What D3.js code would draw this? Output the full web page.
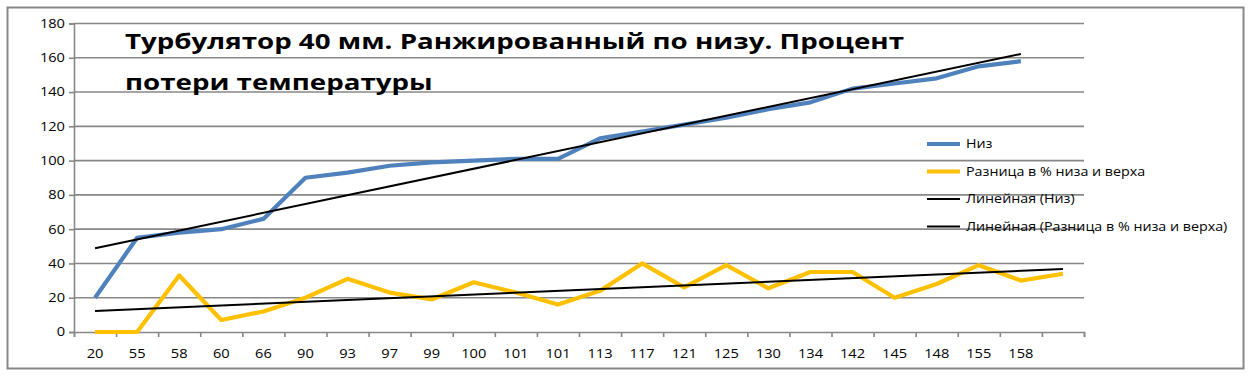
<!DOCTYPE html>
<html>
<head>
<meta charset="utf-8">
<script src="https://cdn.jsdelivr.net/npm/d3@7"></script>
<style>
  body { margin: 0; background: #fff; }
  #chart { width: 1251px; height: 376px; }
  text { font-family: 'Open Sans', sans-serif; fill: #000; }
</style>
</head>
<body>
<div id="chart"></div>
<script>
// категории оси X (последний слот без подписи)
const categories = ['20','55','58','60','66','90','93','97','99','100','101','101','113','117','121','125','130','134','142','145','148','155','158',''];
const niz = [20,55,58,60,66,90,93,97,99,100,101,101,113,117,121,125,130,134,142,145,148,155,158];
const raznica = [0,0,33,7,12,20,31,23,19,29,23,16,24,40,26,39,25.5,35,35,20,28,39,30,34];
const yTicks = [0,20,40,60,80,100,120,140,160,180];
const titleLines = ['Турбулятор 40 мм. Ранжированный по низу. Процент', 'потери температуры'];
const legendNames = ['Низ', 'Разница в % низа и верха', 'Линейная (Низ)', 'Линейная (Разница в % низа и верха)'];

const SX = 1.22; // текст в исходнике растянут по горизонтали

class Chart{
  constructor(opts){
    this.element = opts.element;
    this.draw();
  }

  draw(){
    this.width = 1251;
    this.height = 376;
    this.plotBox = {left: 74, right: 1084, top: 23.5, bottom: 332};

    const svg = d3.select(this.element).append('svg')
      .attr('width', this.width)
      .attr('height', this.height);
    this.svg = svg;

    svg.append('rect')
      .attr('x', 7.5).attr('y', 7.5)
      .attr('width', 1236).attr('height', 361)
      .attr('fill', '#fff')
      .attr('stroke', '#878787')
      .attr('stroke-width', 2);

    this.createScales();
    this.addGrid();
    this.addAxes();
    this.addTitle();
    this.addLines();
    this.addLegend();
  }

  createScales(){
    const p = this.plotBox;
    this.xBand = d3.scaleBand()
      .domain(d3.range(categories.length))
      .range([p.left, p.right])
      .padding(0);
    this.xEdge = d3.scaleLinear()
      .domain([0, categories.length])
      .range([p.left, p.right]);
    this.yScale = d3.scaleLinear()
      .domain([0, 180])
      .range([p.bottom, p.top]);
    this.cx = i => this.xBand(i) + this.xBand.bandwidth()/2;
  }

  addGrid(){
    const p = this.plotBox;
    this.svg.append('g').attr('class', 'grid')
      .selectAll('line')
      .data(yTicks.filter(d => d > 0))
      .join('line')
      .attr('x1', p.left).attr('x2', p.right)
      .attr('y1', d => this.yScale(d)).attr('y2', d => this.yScale(d))
      .attr('stroke', '#878787')
      .attr('stroke-width', 1.6);
  }

  addAxes(){
    const p = this.plotBox;

    const yAxis = d3.axisLeft(this.yScale)
      .tickValues(yTicks)
      .tickSize(5)
      .tickPadding(9);
    const gy = this.svg.append('g')
      .attr('transform', `translate(${p.left},0)`)
      .call(yAxis);

    // засечки между категориями
    const edgeAxis = d3.axisBottom(this.xEdge)
      .tickValues(d3.range(categories.length + 1))
      .tickSize(5)
      .tickFormat('');
    this.svg.append('g')
      .attr('transform', `translate(0,${p.bottom})`)
      .call(edgeAxis);

    const xAxis = d3.axisBottom(this.xBand)
      .tickSize(0)
      .tickPadding(17)
      .tickFormat(i => categories[i]);
    const gx = this.svg.append('g')
      .attr('transform', `translate(0,${p.bottom})`)
      .call(xAxis);
    gx.select('.domain').remove();

    this.svg.selectAll('.domain, .tick line')
      .attr('stroke', '#878787')
      .attr('stroke-width', 1.6);

    this.svg.selectAll('.tick text')
      .attr('font-family', "'Open Sans', sans-serif")
      .attr('font-size', 12)
      .attr('fill', '#000');

    gy.selectAll('.tick text')
      .attr('x', null)
      .attr('transform', `translate(-9,0) scale(${SX},1)`);
    gx.selectAll('.tick text')
      .attr('transform', `scale(${SX},1)`);
  }

  addTitle(){
    this.svg.append('g').selectAll('text')
      .data(titleLines)
      .join('text')
      .attr('transform', (d, i) => `translate(125,${49 + i*41}) scale(1.26,1)`)
      .style('font-size', '22px')
      .style('font-weight', 'bold')
      .text(d => d);
  }

  trend(values){
    const xs = values.map((d, i) => i + 1);
    const mx = d3.mean(xs), my = d3.mean(values);
    const b = d3.sum(xs, (x, i) => (x - mx)*(values[i] - my)) / d3.sum(xs, x => (x - mx)*(x - mx));
    const a = my - b*mx;
    return [0, values.length - 1].map(i => [i, a + b*(i + 1)]);
  }

  addLines(){
    const line = d3.line()
      .x(d => this.cx(d[0]))
      .y(d => this.yScale(d[1]));

    const series = [
      {values: niz, color: '#4f81bd'},
      {values: raznica, color: '#ffc000'}
    ];

    series.forEach(s => {
      this.svg.append('path')
        .datum(s.values.map((v, i) => [i, v]))
        .attr('d', line)
        .attr('fill', 'none')
        .attr('stroke', s.color)
        .attr('stroke-width', 4.2)
        .attr('stroke-linejoin', 'round');
    });

    series.forEach(s => {
      this.svg.append('path')
        .datum(this.trend(s.values))
        .attr('d', line)
        .attr('fill', 'none')
        .attr('stroke', '#000')
        .attr('stroke-width', 2);
    });
  }

  addLegend(){
    const colors = ['#4f81bd', '#ffc000', '#000', '#000'];
    const widths = [4, 4, 2, 2];
    const items = this.svg.append('g').attr('class', 'legend')
      .selectAll('g')
      .data(legendNames)
      .join('g')
      .attr('transform', (d, i) => `translate(927,${144 + i*27.5})`);

    items.append('line')
      .attr('x1', 0).attr('x2', 33)
      .attr('stroke', (d, i) => colors[i])
      .attr('stroke-width', (d, i) => widths[i]);

    items.append('text')
      .attr('transform', `translate(39,0) scale(1.19,1)`)
      .attr('dy', '0.35em')
      .style('font-size', '12px')
      .text(d => d);
  }
}

new Chart({element: document.getElementById('chart')});
</script>
</body>
</html>
